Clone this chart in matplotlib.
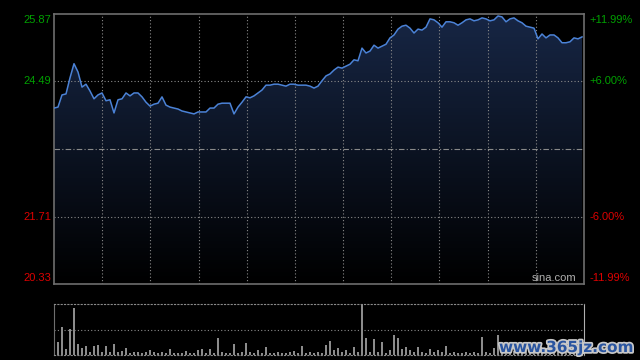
import numpy as np
import matplotlib
matplotlib.use("Agg")
import matplotlib.pyplot as plt
import matplotlib.patheffects as pe

# price (one value every ~4 px)
price = [
    23.94, 23.96, 24.21, 24.23, 24.56, 24.85, 24.68, 24.37, 24.43, 24.29,
    24.13, 24.21, 24.25, 24.09, 24.11, 23.84, 24.11, 24.13, 24.25, 24.19,
    24.25, 24.25, 24.17, 24.06, 23.98, 24.02, 24.04, 24.17, 24.00, 23.96,
    23.94, 23.92, 23.88, 23.86, 23.84, 23.82, 23.86, 23.86, 23.86, 23.94,
    23.94, 24.02, 24.04, 24.04, 24.04, 23.82, 23.96, 24.06, 24.17, 24.15,
    24.19, 24.25, 24.31, 24.41, 24.41, 24.43, 24.43, 24.41, 24.39, 24.43,
    24.43, 24.41, 24.41, 24.41, 24.39, 24.35, 24.39, 24.50, 24.60, 24.64,
    24.72, 24.78, 24.76, 24.80, 24.84, 24.93, 24.91, 25.17, 25.07, 25.11,
    25.23, 25.17, 25.21, 25.25, 25.38, 25.44, 25.56, 25.62, 25.64, 25.58,
    25.48, 25.56, 25.54, 25.60, 25.77, 25.75, 25.69, 25.60, 25.71, 25.71,
    25.69, 25.64, 25.69, 25.75, 25.77, 25.73, 25.75, 25.79, 25.77, 25.73,
    25.75, 25.83, 25.81, 25.71, 25.77, 25.79, 25.73, 25.69, 25.62, 25.60,
    25.58, 25.36, 25.46, 25.38, 25.44, 25.44, 25.38, 25.28, 25.28, 25.30,
    25.38, 25.36, 25.40,
]

# volume (hands)
volume = [
    15, 13, 28, 6, 26, 47, 11, 7, 9, 3,
    9, 10, 3, 9, 3, 11, 3, 4, 7, 2,
    3, 3, 2, 3, 5, 3, 2, 3, 2, 6,
    2, 2, 2, 4, 2, 2, 5, 6, 2, 6,
    2, 17, 3, 2, 2, 11, 2, 3, 12, 3,
    2, 5, 2, 8, 2, 2, 3, 2, 2, 3,
    4, 2, 9, 2, 3, 2, 3, 2, 10, 14,
    5, 7, 3, 5, 2, 8, 3, 51, 17, 3,
    16, 3, 13, 2, 5, 20, 17, 6, 8, 5,
    3, 8, 3, 2, 6, 3, 5, 3, 9, 2,
    3, 2, 2, 3, 2, 3, 2, 18, 3, 2,
    7, 20, 3, 6, 3, 4, 4, 3, 5, 2,
    4, 3, 6, 2, 4, 3, 5, 2, 4, 3,
    5, 3, 6,
]
volume = [v * 400 for v in volume]

prev_close = 23.10
y_min, y_max = 20.33, 25.87
left_labels = ["25.87", "24.49", "21.71", "20.33"]
right_labels = ["+11.99%", "+6.00%", "-6.00%", "-11.99%"]

green = "#00a000"
red = "#dd0000"
grid_c = "#8a8a8a"
frame_c = "#6e6e6e"

x = np.arange(len(price))
x_end = len(price) - 0.5

fig = plt.figure(figsize=(6.4, 3.6), dpi=100, facecolor="black")
ax = fig.add_axes([54 / 640, 1 - 284 / 360, 530 / 640, 270 / 360], facecolor="black")
axv = fig.add_axes([54 / 640, 1 - 355 / 360, 530 / 640, 51 / 360], facecolor="black")

# gradient fill under the price line
poly = ax.fill_between(x, price, y_min, color="none")
grad = np.linspace(1, 0, 256).reshape(-1, 1)
top_rgb = np.array([0.09, 0.15, 0.27])
img = grad[..., None] * top_rgb
im = ax.imshow(img, extent=[0, x_end, y_min, y_max], aspect="auto", zorder=1, origin="upper")
im.set_clip_path(poly.get_paths()[0], transform=ax.transData)
ax.plot(x, price, color="#4b82d6", lw=1.1, zorder=3)

ax.set_xlim(0, x_end)
ax.set_ylim(y_min, y_max)
ax.set_xticks([])
ax.set_yticks([])

# grid
for k in range(1, 11):
    ax.axvline(k * x_end / 11, color=grid_c, lw=0.8, ls=(0, (1, 2)), zorder=2)
for lv in [24.49, 21.71]:
    ax.axhline(lv, color=grid_c, lw=0.8, ls=(0, (1, 2)), zorder=2)
ax.axhline(prev_close, color=grid_c, lw=0.8, ls=(0, (5, 2, 1, 2)), zorder=2)

for s in ax.spines.values():
    s.set_color(frame_c)
    s.set_linewidth(1.2)

# axis labels
tr_l = ax.get_yaxis_transform()
label_y = [25.74, 24.49, 21.71, 20.45]
for lab, yy, c in zip(left_labels, label_y, [green, green, red, red]):
    ax.text(-0.006, yy, lab, transform=tr_l, ha="right", va="center",
            color=c, fontsize=8, family="Liberation Sans")
for lab, yy, c in zip(right_labels, label_y, [green, green, red, red]):
    ax.text(1.01, yy, lab, transform=tr_l, ha="left", va="center",
            color=c, fontsize=8, family="Liberation Sans")

ax.text(0.985, 0.005, "sina.com", transform=ax.transAxes, ha="right", va="bottom",
        color="#b0b0b0", fontsize=8, family="Liberation Sans", zorder=4)

# volume panel
axv.bar(x, volume, width=0.35, color="#8c8c8c")
axv.set_xlim(0, x_end)
axv.set_ylim(0, 51 * 400)
axv.set_xticks([])
axv.set_yticks([])
axv.axhline(51 * 400 / 2, color=grid_c, lw=0.8, ls=(0, (1, 2)))
for k in ["top", "bottom"]:
    axv.spines[k].set_linestyle((0, (1, 2)))
    axv.spines[k].set_color(grid_c)
    axv.spines[k].set_linewidth(0.8)
axv.spines["left"].set_color(frame_c)
axv.spines["right"].set_color("#b0b0b0")

fig.text(633 / 640, 1 - 355 / 360, "www.365jz.com", ha="right", va="bottom",
         color="#2a55a0", fontsize=11, fontweight="bold", family="DejaVu Sans",
         path_effects=[pe.withStroke(linewidth=2.5, foreground="#c8c8c8")])

fig.savefig("out.png", dpi=100, facecolor="black")
